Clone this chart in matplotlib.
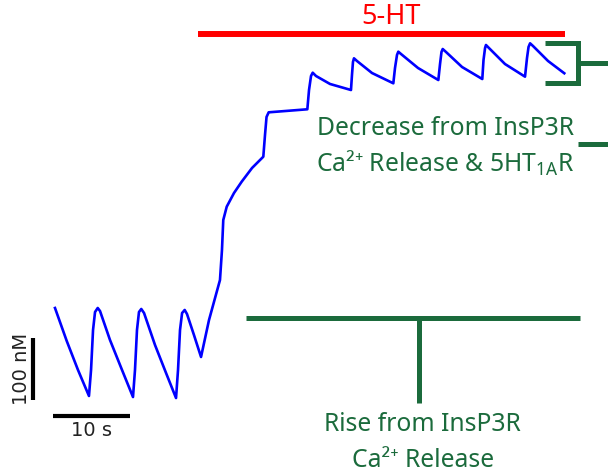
import matplotlib
matplotlib.use("Agg")
import matplotlib.pyplot as plt

# Cytosolic Ca2+ trace: time (s) and concentration above baseline (nM)
time_s = [0.22, 1.75, 3.22, 4.65,
          4.92, 5.18, 5.44, 5.79, 6.09, 7.39, 8.96, 10.39,
          10.65, 10.91, 11.17, 11.47, 11.83, 13.26, 14.70, 16.00,
          16.26, 16.52, 16.79, 17.13, 17.43, 18.34, 19.26,
          20.30, 21.73, 21.99, 22.16, 22.61, 23.56, 24.56, 25.91, 27.38,
          27.60, 27.80, 28.08, 33.12,
          33.34, 33.60, 33.82, 34.25, 36.08, 38.81,
          38.94, 39.07, 39.20, 39.59, 41.55, 44.33,
          44.55, 44.81, 44.98, 45.33, 47.55, 50.20,
          50.42, 50.61, 50.77, 51.20, 53.29, 55.93,
          56.09, 56.29, 56.41, 56.80, 58.89, 61.50,
          61.76, 61.96, 62.16, 62.54, 64.50, 66.62]
ca_nM = [148.4, 95.2, 48.4, 6.5,
         48.4, 112.9, 141.9, 148.4, 143.5, 96.8, 48.4, 4.8,
         48.4, 112.9, 141.9, 146.8, 140.3, 88.7, 43.5, 3.2,
         48.4, 112.9, 140.3, 145.2, 138.7, 104.8, 69.4,
         129.0, 193.5, 241.9, 290.3, 311.8, 333.9, 352.1, 374.2, 392.4,
         427.4, 456.5, 464.0, 468.9,
         500.0, 522.6, 527.9, 522.6, 509.7, 500.0,
         524.2, 545.2, 551.1, 546.8, 527.4, 510.8,
         535.5, 556.5, 561.8, 558.1, 535.5, 516.1,
         541.9, 561.3, 566.1, 561.3, 537.1, 517.7,
         548.4, 567.7, 572.6, 567.7, 541.9, 521.5,
         551.6, 569.4, 575.3, 571.0, 546.8, 527.0]

# 5-HT application window (s)
ht_on, ht_off = 18.87, 66.71
# scale bars
bar_time_s = 10
bar_ca_nM = 100

GREEN = "#1b6b3c"
BLUE = "#0000ff"
RED = "#ff0000"
FONT = ["Noto Sans", "DejaVu Sans"]

plt.rcParams["mathtext.fontset"] = "custom"
plt.rcParams["mathtext.rm"] = "Noto Sans"

fig = plt.figure(figsize=(6.08, 4.75), dpi=100)
ax = fig.add_axes([0, 0, 1, 1])
ax.set_xlim(-6.95, 72.32)
ax.set_ylim(-120.97, 645.16)
ax.axis("off")

ax.plot(time_s, ca_nM, color=BLUE, lw=1.9, solid_joinstyle="round")

# 5-HT bar
ax.plot([ht_on, ht_off], [591.1, 591.1], color=RED, lw=4.3, solid_capstyle="butt")
ax.text(44.0, 617.7, "5-HT", color=RED, fontsize=19.5, family=FONT,
        ha="center", va="center")

# bracket around the late oscillations
ax.plot([64.1, 68.4, 68.4, 64.1], [575.3, 575.3, 511.8, 511.8], color=GREEN,
        lw=3.6, solid_joinstyle="miter", solid_capstyle="butt")
ax.plot([68.4, 72.4], [543.1, 543.1], color=GREEN, lw=3.6, solid_capstyle="butt")
ax.plot([68.4, 72.4], [412.9, 412.9], color=GREEN, lw=3.6, solid_capstyle="butt")
ax.text(51.1, 438.7, "Decrease from InsP3R", color=GREEN, fontsize=17.8,
        family=FONT, ha="center", va="center")
ax.text(51.1, 382.3, "Ca\u00b2\u207a Release & 5HT$_{\\mathregular{1A}}$R",
        color=GREEN, fontsize=17.8, family=FONT, ha="center", va="center")

# T marker for the rise
ax.plot([25.12, 68.67], [131.8, 131.8], color=GREEN, lw=3.6, solid_capstyle="butt")
ax.plot([47.68, 47.68], [131.8, -4.8], color=GREEN, lw=3.6, solid_capstyle="butt")
ax.text(48.15, -40.3, "Rise from InsP3R", color=GREEN, fontsize=17.8,
        family=FONT, ha="center", va="center")
ax.text(48.15, -96.8, "Ca\u00b2\u207a Release", color=GREEN, fontsize=17.8,
        family=FONT, ha="center", va="center")

# scale bars
ax.plot([0, bar_time_s], [-25.8, -25.8], color="black", lw=3, solid_capstyle="butt")
ax.text(bar_time_s / 2, -48.4, f"{bar_time_s} s", fontsize=14, ha="center",
        va="center", color="#222222")
ax.plot([-2.61, -2.61], [0, bar_ca_nM], color="black", lw=3, solid_capstyle="butt")
ax.text(-4.12, bar_ca_nM / 2, f"{bar_ca_nM} nM", fontsize=14, rotation=90,
        ha="center", va="center", color="#222222")

fig.savefig("out.png", dpi=100)
